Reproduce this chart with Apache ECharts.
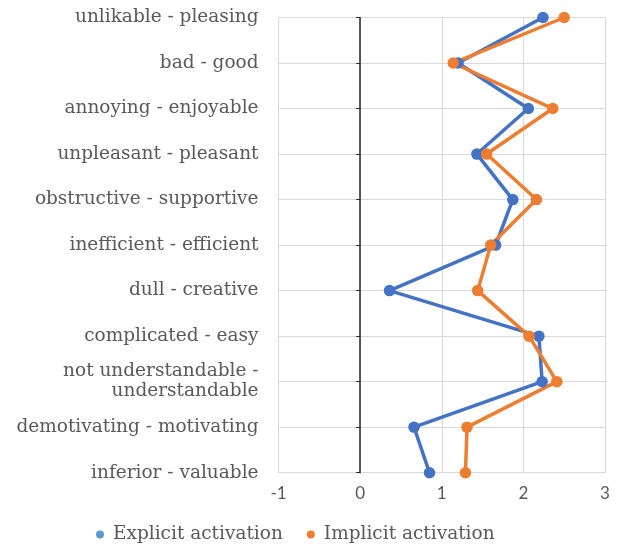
<!DOCTYPE html>
<html><head><meta charset="utf-8">
<script src="https://cdn.jsdelivr.net/npm/echarts@6/dist/echarts.min.js"></script>
<style>html,body{margin:0;padding:0;background:#fff}#c{width:619px;height:546px}</style>
</head><body><div id="c"></div>
<script>
const categories = ["unlikable - pleasing","bad - good","annoying - enjoyable","unpleasant - pleasant","obstructive - supportive","inefficient - efficient","dull - creative","complicated - easy","not understandable -\nunderstandable","demotivating - motivating","inferior - valuable"];
const explicitValues = [2.24,1.2,2.06,1.43,1.87,1.66,0.36,2.19,2.23,0.66,0.85];
const implicitValues = [2.50,1.14,2.36,1.55,2.16,1.60,1.44,2.07,2.41,1.31,1.29];
const xTicks = [-1,0,1,2,3];

const chart = echarts.init(document.getElementById('c'));
chart.setOption({
  animation:false,
  grid:{left:278.5,right:14,top:17.5,bottom:73.3,containLabel:false},
  legend:{top:520,left:91,icon:'circle',itemWidth:8,itemHeight:8,itemGap:24,
    textStyle:{fontFamily:'DejaVu Serif',fontSize:18.5,color:'#595959',padding:[0,0,0,4]},
    data:[{name:'Explicit activation',itemStyle:{color:'#5B9BD5'}},{name:'Implicit activation',itemStyle:{color:'#ED7D31'}}]},
  xAxis:{type:'value',min:-1,max:3,interval:1,
    axisLine:{show:false},axisTick:{show:false},
    splitLine:{lineStyle:{color:'#d9d9d9',width:1}},
    axisLabel:{fontFamily:'Lato',fontSize:17,color:'#595959',margin:12}},
  yAxis:[{type:'category',data:categories,inverse:true,boundaryGap:false,
    axisLine:{show:false,onZero:false},axisTick:{show:false},
    splitLine:{show:true,lineStyle:{color:'#d9d9d9',width:1}},
    axisLabel:{fontFamily:'DejaVu Serif',fontSize:18.5,color:'#595959',margin:20,align:'right',lineHeight:20}},
   {type:'category',data:categories,inverse:true,boundaryGap:false,position:'left',
    axisLine:{show:true,onZero:true,lineStyle:{color:'#262626',width:1.5}},
    axisTick:{show:true,length:4,lineStyle:{color:'#262626'}},
    axisLabel:{show:false},splitLine:{show:false}}],
  series:[
   {name:'Explicit activation',type:'line',data:explicitValues,symbol:'circle',symbolSize:11.5,
    itemStyle:{color:'#4472C4'},lineStyle:{width:3.5,color:'#4472C4'}},
   {name:'Implicit activation',type:'line',data:implicitValues,symbol:'circle',symbolSize:11.5,
    itemStyle:{color:'#ED7D31'},lineStyle:{width:3.5,color:'#ED7D31'}}
  ]
});
</script></body></html>
